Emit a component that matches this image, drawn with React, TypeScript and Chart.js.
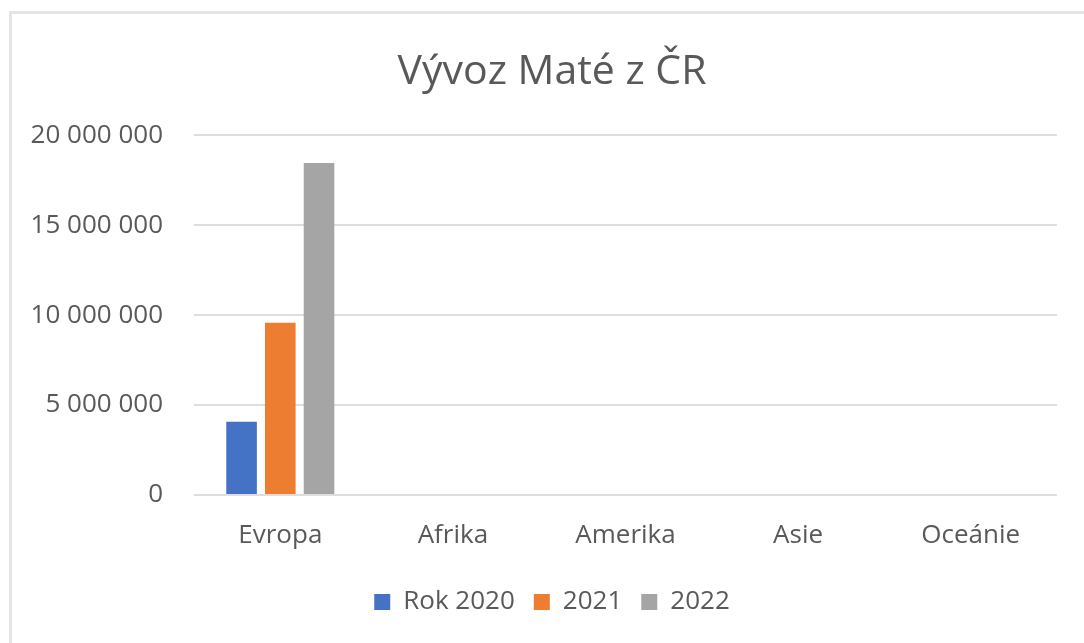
import React, { useEffect, useRef } from "react";
import { Chart, registerables } from "chart.js";

Chart.register(...registerables);

const categories = ["Evropa", "Afrika", "Amerika", "Asie", "Oceánie"];
const seriesLabels = ["Rok 2020", "2021", "2022"];
const values2020 = [4070000, 0, 0, 0, 0];
const values2021 = [9570000, 0, 0, 0, 0];
const values2022 = [18460000, 0, 0, 0, 0];
const seriesColors = ["#4472C4", "#ED7D31", "#A5A5A5"];
const yTicks = [0, 5000000, 10000000, 15000000, 20000000];
const titleText = "Vývoz Maté z ČR";

const FONT = "'Open Sans', sans-serif";
const TEXT = "#595959";

function fmt(v: number): string {
  return String(Math.round(v)).replace(/\B(?=(\d{3})+(?!\d))/g, " ");
}

export default function App() {
  const ref = useRef<HTMLCanvasElement | null>(null);

  useEffect(() => {
    if (!ref.current) return;
    const allSeries = [values2020, values2021, values2022];
    const chart = new Chart(ref.current, {
      type: "bar",
      data: {
        labels: categories,
        datasets: allSeries.map((vals, i) => ({
          label: seriesLabels[i],
          data: vals,
          backgroundColor: seriesColors[i],
          borderWidth: 0,
          categoryPercentage: 0.673,
          barPercentage: 0.79,
          yAxisID: "y",
        })),
      },
      options: {
        responsive: false,
        animation: false,
        devicePixelRatio: 1,
        layout: { padding: { left: 20, right: 0, top: 0, bottom: 18 } },
        plugins: {
          title: {
            display: true,
            text: titleText,
            color: TEXT,
            font: { family: FONT, size: 41, weight: "normal" },
            padding: { top: 48, bottom: 38 },
          },
          legend: {
            position: "bottom",
            labels: {
              color: TEXT,
              font: { family: FONT, size: 26 },
              boxWidth: 16,
              boxHeight: 16,
              padding: 19,
            },
          },
          tooltip: { enabled: false },
        },
        scales: {
          x: {
            grid: { display: false, drawTicks: false },
            border: { display: false },
            ticks: {
              color: TEXT,
              font: { family: FONT, size: 26 },
              padding: 25,
              maxRotation: 0,
            },
            afterFit: (scale: any) => {
              scale.height = 75;
            },
          },
          y: {
            min: 0,
            max: 20000000,
            afterBuildTicks: (scale: any) => {
              scale.ticks = yTicks.map((v) => ({ value: v }));
            },
            grid: { color: "#dedede", lineWidth: 2, drawTicks: false },
            border: { display: false },
            ticks: {
              color: TEXT,
              font: { family: FONT, size: 26 },
              padding: 31,
              callback: (v: any) => fmt(Number(v)),
            },
            afterFit: (scale: any) => {
              scale.width = 174;
            },
          },
          y2: {
            type: "linear",
            position: "right",
            display: true,
            grid: { display: false, drawOnChartArea: false, drawTicks: false },
            border: { display: false },
            ticks: { display: false },
            afterFit: (scale: any) => {
              scale.width = 27;
            },
          },
        },
      },
    });
    return () => chart.destroy();
  }, []);

  return (
    <div style={{ position: "fixed", left: 0, top: 0, width: 1084, height: 643, background: "#fff" }}>
      <div
        style={{
          position: "absolute",
          left: 9,
          top: 11,
          width: 1200,
          height: 800,
          borderLeft: "3px solid #e4e4e4",
          borderTop: "3px solid #e4e4e4",
        }}
      />
      <canvas ref={ref} width={1084} height={643} style={{ position: "absolute", left: 0, top: 0 }} />
    </div>
  );
}
